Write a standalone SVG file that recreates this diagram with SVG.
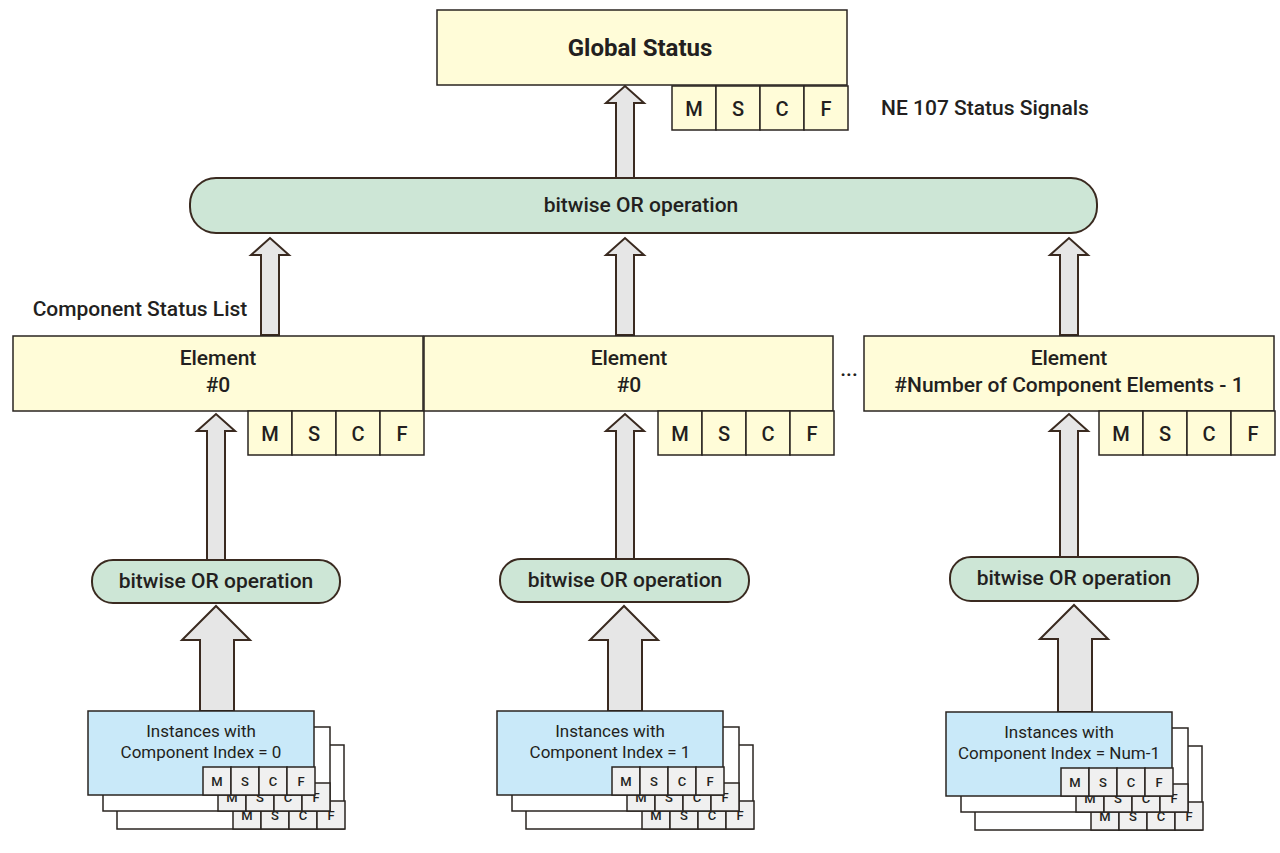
<svg xmlns="http://www.w3.org/2000/svg" xmlns:xlink="http://www.w3.org/1999/xlink" width="1280" height="853" viewBox="0 0 1280 853">
<style>
.y{fill:#fffcd8;stroke:#2a2420;stroke-width:1.5}
.g{fill:#cde6d6;stroke:#3a2a20;stroke-width:2}
.b{fill:#c9e9f9;stroke:#2a2420;stroke-width:1.5}
.w{fill:#fff;stroke:#2a2420;stroke-width:1.5}
.s{fill:#f0f0f0;stroke:#2a2420;stroke-width:1.5}
.ar{fill:#e6e6e6;stroke:#3a2a20;stroke-width:2}
text{font-family:Roboto,"Liberation Sans",sans-serif;fill:#231f20;text-anchor:middle}
.t{font-size:21px;font-weight:500}
.m{font-size:20px;font-weight:500}
.sm{font-size:17px}
.xs{font-size:13px;font-weight:500}
</style>
<defs>
<g id="mscf">
<rect class="y" x="0" y="0" width="44" height="44"/><rect class="y" x="44" y="0" width="44" height="44"/><rect class="y" x="88" y="0" width="44" height="44"/><rect class="y" x="132" y="0" width="44" height="44"/>
<text class="m" x="22" y="30">M</text><text class="m" x="66" y="30">S</text><text class="m" x="110" y="30">C</text><text class="m" x="154" y="30">F</text>
</g>
<g id="smscf">
<rect class="s" x="0" y="0" width="28" height="28"/><rect class="s" x="28" y="0" width="28" height="28"/><rect class="s" x="56" y="0" width="28" height="28"/><rect class="s" x="84" y="0" width="28" height="28"/>
<text class="xs" x="14" y="19">M</text><text class="xs" x="42" y="19">S</text><text class="xs" x="70" y="19">C</text><text class="xs" x="98" y="19">F</text>
</g>
<g id="back">
<rect class="w" x="29" y="34" width="227" height="84"/><use xlink:href="#smscf" x="145" y="90"/>
<rect class="w" x="15" y="16" width="227" height="84"/><use xlink:href="#smscf" x="130" y="72"/>
</g>
</defs>
<g id="connectors">
<path class="ar" d="M616,178 V103 H606 L625,86 L644,103 H634 V178 Z"/>
<path class="ar" d="M261,335 V255 H251 L270,238 L289,255 H279 V335 Z"/>
<path class="ar" d="M616,335 V255 H606 L625,238 L644,255 H634 V335 Z"/>
<path class="ar" d="M1060,335 V255 H1050 L1069,238 L1088,255 H1078 V335 Z"/>
<path class="ar" d="M207,560 V431 H197 L216,414 L235,431 H225 V560 Z"/>
<path class="ar" d="M616,559 V431 H606 L625,414 L644,431 H634 V559 Z"/>
<path class="ar" d="M1060,557 V431 H1050 L1069,414 L1088,431 H1078 V557 Z"/>
<path class="ar" d="M200,711 V640 H182 L216,606 L250,640 H234 V711 Z"/>
<path class="ar" d="M608,711 V640 H590 L624,606 L658,640 H642 V711 Z"/>
<path class="ar" d="M1058,712 V639 H1040 L1074,605 L1108,639 H1092 V712 Z"/>
</g>
<g id="global"><rect class="y" x="437" y="10" width="410" height="75"/><text x="640" y="56" style="font-size:24px;font-weight:700">Global Status</text><use xlink:href="#mscf" x="672" y="86"/></g>
<text class="t" x="985" y="115">NE 107 Status Signals</text>
<g id="or-top"><rect class="g" x="190" y="178" width="907" height="55" rx="26"/><text class="t" x="641" y="212">bitwise OR operation</text></g>
<text class="t" x="140" y="316">Component Status List</text>
<g id="el0"><rect class="y" x="13" y="336" width="410" height="75"/><text class="t" x="218" y="365">Element</text><text class="t" x="218" y="392">#0</text><use xlink:href="#mscf" x="248" y="411"/></g>
<g id="el1"><rect class="y" x="424" y="336" width="409" height="75"/><text class="t" x="629" y="365">Element</text><text class="t" x="629" y="392">#0</text><use xlink:href="#mscf" x="658" y="411"/></g>
<text class="t" x="849" y="376">...</text>
<g id="el2"><rect class="y" x="864" y="336" width="410" height="75"/><text class="t" x="1069" y="365">Element</text><text class="t" x="1069" y="392">#Number of Component Elements - 1</text><use xlink:href="#mscf" x="1099" y="411"/></g>
<g id="or0"><rect class="g" x="92" y="560" width="248" height="43" rx="21"/><text class="t" x="216" y="588">bitwise OR operation</text></g>
<g id="or1"><rect class="g" x="500" y="559" width="249" height="43" rx="21"/><text class="t" x="625" y="587">bitwise OR operation</text></g>
<g id="or2"><rect class="g" x="950" y="557" width="248" height="44" rx="21"/><text class="t" x="1074" y="585">bitwise OR operation</text></g>
<g id="inst0" transform="translate(88,711)"><use xlink:href="#back"/><rect class="b" x="0" y="0" width="226" height="84"/><text class="sm" x="113" y="26">Instances with</text><text class="sm" x="113" y="47">Component Index = 0</text><use xlink:href="#smscf" x="115" y="56"/></g>
<g id="inst1" transform="translate(497,711)"><use xlink:href="#back"/><rect class="b" x="0" y="0" width="226" height="84"/><text class="sm" x="113" y="26">Instances with</text><text class="sm" x="113" y="47">Component Index = 1</text><use xlink:href="#smscf" x="115" y="56"/></g>
<g id="inst2" transform="translate(946,712)"><use xlink:href="#back"/><rect class="b" x="0" y="0" width="226" height="84"/><text class="sm" x="113" y="26">Instances with</text><text class="sm" x="113" y="47">Component Index = Num-1</text><use xlink:href="#smscf" x="115" y="56"/></g>
</svg>
